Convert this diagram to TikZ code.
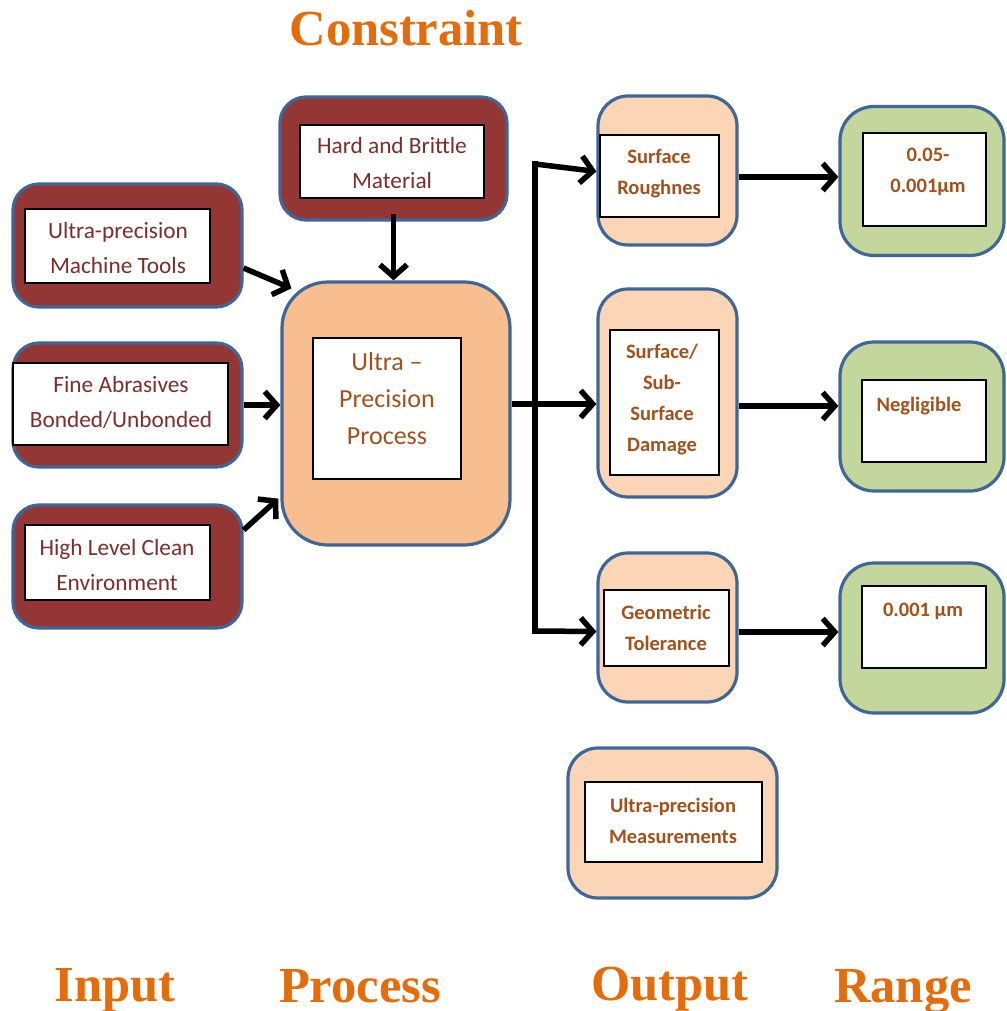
\documentclass[tikz,border=0pt]{standalone}
\usepackage{fontspec}
\setmainfont{Carlito}
\newfontfamily\titlefont{Liberation Serif}
\usetikzlibrary{arrows.meta,calc}
\definecolor{maroonfill}{HTML}{943634}
\definecolor{bord}{HTML}{3F6696}
\definecolor{procfill}{HTML}{F9BE8F}
\definecolor{outfill}{HTML}{FBD5B5}
\definecolor{rngfill}{HTML}{C3D69B}
\definecolor{intext}{HTML}{7A2E2E}
\definecolor{outtext}{HTML}{A0521A}
\definecolor{ttlcol}{HTML}{E46C0A}
\tikzset{
  outerbox/.style={draw=bord, line width=3.2pt, rounded corners=#1, inner sep=0pt},
  inputbox/.style={outerbox=26pt, fill=maroonfill, minimum width=229pt, minimum height=123pt},
  outbox/.style={outerbox=30pt, fill=outfill},
  rngbox/.style={outerbox=34pt, fill=rngfill, minimum width=164pt, minimum height=149pt},
  innerbox/.style={draw=black, line width=1.4pt, fill=white, inner sep=0pt},
  intxt/.style={font=\fontsize{23.3}{35}\selectfont, text=intext, align=center, inner sep=0pt},
  proctxt/.style={font=\fontsize{26}{37}\selectfont, text=outtext, align=center, inner sep=0pt},
  outtxt/.style={font=\bfseries\fontsize{20.5}{31}\selectfont, text=outtext, align=center, inner sep=0pt},
  ttl/.style={font=\titlefont\bfseries\fontsize{50.5}{60}\selectfont, text=ttlcol, anchor=base, inner sep=0pt},
  conn/.style={line width=5.5pt, -{Straight Barb[length=12pt,width=27pt]}},
  trunk/.style={line width=5.5pt}
}
\begin{document}
\begin{tikzpicture}[x=1pt,y=-1pt]
\fill[white] (0,0) rectangle (1006,1011);
\useasboundingbox (0,0) rectangle (1006,1011);

% titles
\node[ttl] (tcon) at (406,46) {Constraint};
\node[ttl] (tin) at (115,1001) {Input};
\node[ttl] (tproc) at (360,1002) {Process};
\node[ttl] (tout) at (670,1000) {Output};
\node[ttl] (trng) at (903,1002) {Range};

% constraint box
\node[inputbox, minimum width=227pt] (hb) at (393.5,158.5) {};
\node[innerbox, minimum width=184pt, minimum height=73pt] (hbin) at (392,161.5) {};
\node[intxt] (hbt) at (392,163) {Hard and Brittle\\Material};

% inputs
\node[inputbox] (mt) at (127.5,245.5) {};
\node[innerbox, minimum width=185pt, minimum height=74pt] (mtin) at (117.5,246) {};
\node[intxt] (mtt) at (118,248) {Ultra-precision\\Machine Tools};

\node[inputbox, minimum height=124pt] (fa) at (127.5,405) {};
\node[innerbox, minimum width=215pt, minimum height=82pt] (fain) at (120.5,404) {};
\node[intxt] (fat) at (121,402) {Fine Abrasives\\Bonded/Unbonded};

\node[inputbox] (hl) at (127.5,566.5) {};
\node[innerbox, minimum width=185pt, minimum height=75pt] (hlin) at (117.5,562.5) {};
\node[intxt] (hlt) at (117,565) {High Level Clean\\Environment};

% process
\node[outerbox=46pt, fill=procfill, minimum width=228pt, minimum height=263pt] (proc) at (396,413.5) {};
\node[innerbox, minimum width=148pt, minimum height=141pt] (procin) at (387,408.5) {};
\node[proctxt] (proct) at (387,399) {Ultra --\\Precision\\Process};

% outputs
\node[outbox, minimum width=139pt, minimum height=149pt] (sr) at (667.5,170.5) {};
\node[innerbox, minimum width=119pt, minimum height=82pt] (srin) at (659.5,176) {};
\node[outtxt] (srt) at (659,174) {Surface\\Roughnes};

\node[outbox, minimum width=139pt, minimum height=208pt] (sd) at (667.5,393) {};
\node[innerbox, minimum width=109pt, minimum height=145pt] (sdin) at (664.5,402.5) {};
\node[outtxt] (sdt) at (662,400) {Surface/\\Sub-\\Surface\\Damage};

\node[outbox, minimum width=139pt, minimum height=149pt] (gt) at (667.5,627.5) {};
\node[innerbox, minimum width=125pt, minimum height=76pt] (gtin) at (666.5,628) {};
\node[outtxt] (gtt) at (666,628) {Geometric\\Tolerance};

\node[outbox, minimum width=209pt, minimum height=150pt] (um) at (672.5,823) {};
\node[innerbox, minimum width=177pt, minimum height=80pt] (umin) at (673.5,822) {};
\node[outtxt] (umt) at (673,821) {Ultra-precision\\Measurements};

% ranges
\node[rngbox] (r1) at (922,181) {};
\node[innerbox, minimum width=123pt, minimum height=93pt] (r1in) at (924.5,179.5) {};
\node[outtxt] (r1t) at (928,172) {0.05-\\0.001µm};

\node[rngbox] (r2) at (922,416.5) {};
\node[innerbox, minimum width=124pt, minimum height=82pt] (r2in) at (924,421) {};
\node[outtxt] (r2t) at (919,406) {Negligible};

\node[rngbox, minimum height=150pt] (r3) at (922,638) {};
\node[innerbox, minimum width=124pt, minimum height=82pt] (r3in) at (924,627) {};
\node[outtxt] (r3t) at (923,611) {0.001 µm};

% connectors into process
\draw[conn] ([yshift=-22.5pt]mt.east) -- ($(proc.north west)+(11,8)$);
\draw[conn] (fa.east) -- (fa.east -| proc.west);
\draw[conn] ([yshift=36.5pt]hl.east) -- ($(proc.south west)+(-2,-48)$);
\draw[conn] ([yshift=8pt]hb.south) -- (hb.south |- proc.north);

% trunk to outputs
\coordinate (jt) at (535,164);
\coordinate (jm) at (535,404);
\coordinate (jb) at (535,631);
\draw[trunk] ([yshift=9.5pt]proc.east) -- (jm);
\draw[trunk, line cap=rect] (jt) -- (jb);
\draw[conn] (jt) -- ([yshift=-1pt]sr.west);
\draw[conn] (jm) -- ([yshift=-11pt]sd.west);
\draw[conn] (jb) -- ([yshift=-4pt]gt.west);

% outputs to ranges
\draw[conn] ([yshift=-6.5pt]sr.east) -- ([yshift=4pt]r1.west);
\draw[conn] ([yshift=-13pt]sd.east) -- ([yshift=10.5pt]r2.west);
\draw[conn] ([yshift=-4.5pt]gt.east) -- ([yshift=6pt]r3.west);
\end{tikzpicture}
\end{document}
